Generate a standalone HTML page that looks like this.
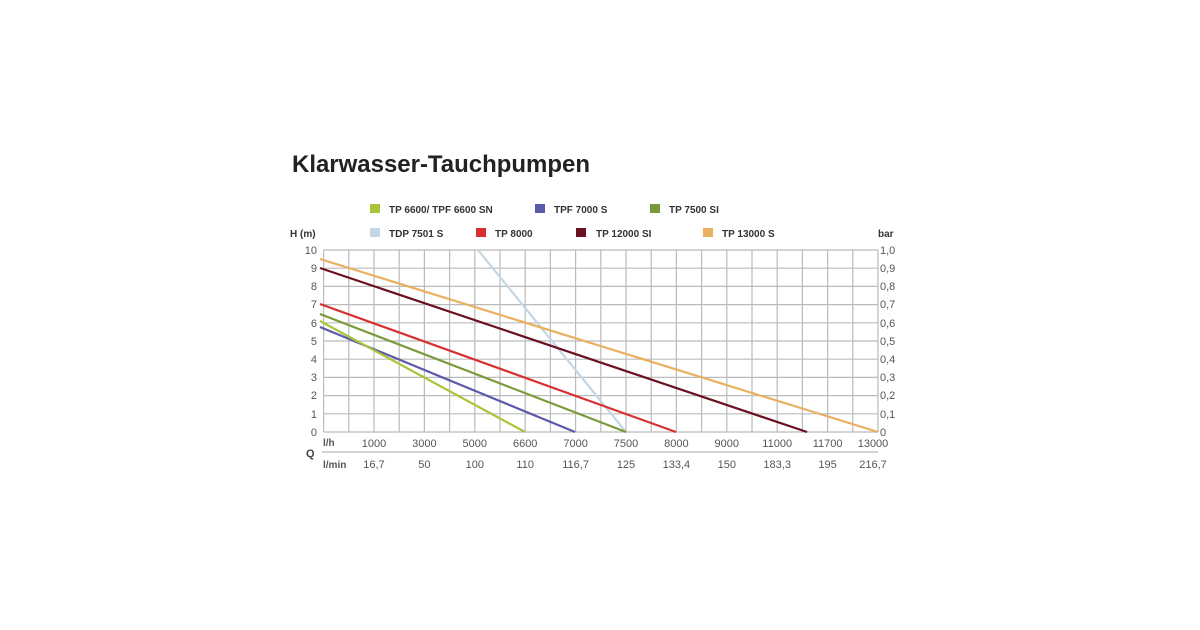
<!DOCTYPE html>
<html><head><meta charset="utf-8"><style>body{margin:0;background:#fff}svg{display:block}</style></head><body>
<svg width="1200" height="630" xmlns="http://www.w3.org/2000/svg" font-family="Liberation Sans, Arial, sans-serif">
<rect width="1200" height="630" fill="#fff"/>
<text x="292" y="172" font-size="24" font-weight="bold" fill="#222" textLength="298" lengthAdjust="spacingAndGlyphs">Klarwasser-Tauchpumpen</text>
<g font-size="10" font-weight="bold" fill="#333">
<rect x="370" y="204" width="10" height="9" fill="#a8c43a"/><text x="389" y="213">TP 6600/ TPF 6600 SN</text>
<rect x="535" y="204" width="10" height="9" fill="#5a5aa8"/><text x="554" y="213">TPF 7000 S</text>
<rect x="650" y="204" width="10" height="9" fill="#7a9a3a"/><text x="669" y="213">TP 7500 SI</text>
<rect x="370" y="228" width="10" height="9" fill="#c4d6e4"/><text x="389" y="237">TDP 7501 S</text>
<rect x="476" y="228" width="10" height="9" fill="#d83030"/><text x="495" y="237">TP 8000</text>
<rect x="576" y="228" width="10" height="9" fill="#6a1020"/><text x="596" y="237">TP 12000 SI</text>
<rect x="703" y="228" width="10" height="9" fill="#e8b060"/><text x="722" y="237">TP 13000 S</text>
<text x="290" y="237">H (m)</text>
<text x="878" y="237">bar</text>
</g>
<g stroke="#bbb" stroke-width="1.2">
<line x1="323.6" y1="250" x2="878" y2="250"/><line x1="323.6" y1="268.2" x2="878" y2="268.2"/><line x1="323.6" y1="286.4" x2="878" y2="286.4"/><line x1="323.6" y1="304.6" x2="878" y2="304.6"/><line x1="323.6" y1="322.8" x2="878" y2="322.8"/><line x1="323.6" y1="341" x2="878" y2="341"/><line x1="323.6" y1="359.2" x2="878" y2="359.2"/><line x1="323.6" y1="377.4" x2="878" y2="377.4"/><line x1="323.6" y1="395.6" x2="878" y2="395.6"/><line x1="323.6" y1="413.8" x2="878" y2="413.8"/><line x1="323.6" y1="432" x2="878" y2="432"/>
<line x1="323.6" y1="250" x2="323.6" y2="432"/><line x1="348.8" y1="250" x2="348.8" y2="432"/><line x1="374" y1="250" x2="374" y2="432"/><line x1="399.2" y1="250" x2="399.2" y2="432"/><line x1="424.4" y1="250" x2="424.4" y2="432"/><line x1="449.6" y1="250" x2="449.6" y2="432"/><line x1="474.8" y1="250" x2="474.8" y2="432"/><line x1="500" y1="250" x2="500" y2="432"/><line x1="525.2" y1="250" x2="525.2" y2="432"/><line x1="550.4" y1="250" x2="550.4" y2="432"/><line x1="575.6" y1="250" x2="575.6" y2="432"/><line x1="600.8" y1="250" x2="600.8" y2="432"/><line x1="626" y1="250" x2="626" y2="432"/><line x1="651.2" y1="250" x2="651.2" y2="432"/><line x1="676.4" y1="250" x2="676.4" y2="432"/><line x1="701.6" y1="250" x2="701.6" y2="432"/><line x1="726.8" y1="250" x2="726.8" y2="432"/><line x1="752" y1="250" x2="752" y2="432"/><line x1="777.2" y1="250" x2="777.2" y2="432"/><line x1="802.4" y1="250" x2="802.4" y2="432"/><line x1="827.6" y1="250" x2="827.6" y2="432"/><line x1="852.8" y1="250" x2="852.8" y2="432"/><line x1="878" y1="250" x2="878" y2="432"/>
</g>
<g stroke-width="2.2" fill="none">
<line x1="478" y1="250" x2="626" y2="432" stroke="#c4d6e4"/>
<line x1="320" y1="259" x2="878" y2="432" stroke="#e8b060"/>
<line x1="320" y1="268" x2="807" y2="432" stroke="#6a1020"/>
<line x1="320" y1="304" x2="676" y2="432" stroke="#d83030"/>
<line x1="320" y1="314" x2="626" y2="432" stroke="#7a9a3a"/>
<line x1="320" y1="327" x2="575" y2="432" stroke="#5a5aa8"/>
<line x1="320" y1="321" x2="525" y2="432" stroke="#a8c43a"/>
</g>
<g font-size="11" fill="#555" text-anchor="end">
<text x="317" y="254">10</text><text x="317" y="272">9</text><text x="317" y="290">8</text><text x="317" y="308">7</text><text x="317" y="327">6</text><text x="317" y="345">5</text><text x="317" y="363">4</text><text x="317" y="381">3</text><text x="317" y="399">2</text><text x="317" y="418">1</text><text x="317" y="436">0</text>
</g>
<g font-size="11" fill="#555">
<text x="880" y="254">1,0</text><text x="880" y="272">0,9</text><text x="880" y="290">0,8</text><text x="880" y="308">0,7</text><text x="880" y="327">0,6</text><text x="880" y="345">0,5</text><text x="880" y="363">0,4</text><text x="880" y="381">0,3</text><text x="880" y="399">0,2</text><text x="880" y="418">0,1</text><text x="880" y="436">0</text>
</g>
<line x1="322" y1="452" x2="878" y2="452" stroke="#bbb" stroke-width="1.2"/>
<text x="306" y="457" font-size="11" font-weight="bold" fill="#444">Q</text>
<g font-size="10" font-weight="bold" fill="#555"><text x="323" y="446">l/h</text><text x="323" y="468">l/min</text></g>
<g font-size="11" fill="#555" text-anchor="middle">
<text x="374" y="447">1000</text><text x="424.4" y="447">3000</text><text x="474.8" y="447">5000</text><text x="525.2" y="447">6600</text><text x="575.6" y="447">7000</text><text x="626" y="447">7500</text><text x="676.4" y="447">8000</text><text x="726.8" y="447">9000</text><text x="777.2" y="447">11000</text><text x="827.6" y="447">11700</text><text x="873" y="447">13000</text>
<text x="374" y="468">16,7</text><text x="424.4" y="468">50</text><text x="474.8" y="468">100</text><text x="525.2" y="468">110</text><text x="575.6" y="468">116,7</text><text x="626" y="468">125</text><text x="676.4" y="468">133,4</text><text x="726.8" y="468">150</text><text x="777.2" y="468">183,3</text><text x="827.6" y="468">195</text><text x="873" y="468">216,7</text>
</g>
</svg>
</body></html>
